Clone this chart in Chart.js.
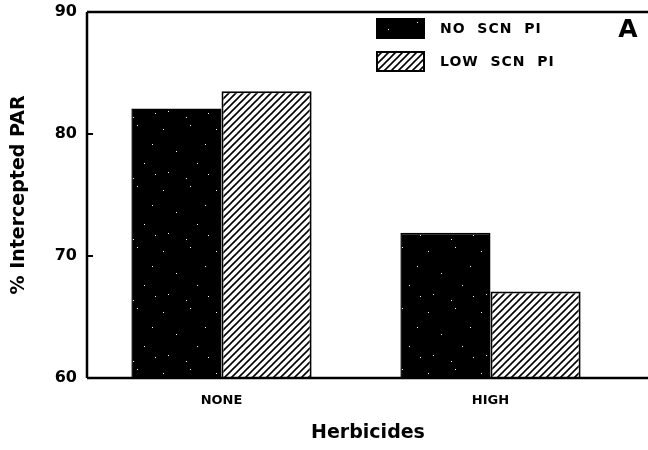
<!DOCTYPE html>
<html>
<head>
<meta charset="utf-8">
<script src="https://cdn.jsdelivr.net/npm/chart.js@4.4.0/dist/chart.umd.min.js"></script>
<style>
  body { margin: 0; overflow: hidden; background: #fff; }
  #wrap { width: 648px; height: 450px; }
</style>
</head>
<body>
<div id="wrap"><canvas id="chart"></canvas></div>
<script>
// data
const categories = ["NONE", "HIGH"];
const noScnPi = [82.1, 71.9];
const lowScnPi = [83.5, 67.1];
const seriesLabels = ["NO SCN PI", "LOW SCN PI"];
const yTicks = [60, 70, 80, 90];

const FONT = "'DejaVu Sans', 'Liberation Sans', sans-serif";

// black fill with a few white specks
function speckle() {
    const c = document.createElement("canvas");
    c.width = 53; c.height = 61;
    const g = c.getContext("2d");
    g.fillStyle = "#000";
    g.fillRect(0, 0, 53, 61);
    g.fillStyle = "#fff";
    const pts = [[4,7],[31,3],[46,22],[17,29],[38,41],[9,50],[27,56],[49,52]];
    pts.forEach(p => g.fillRect(p[0], p[1], 1, 1));
    return document.getElementById("chart").getContext("2d").createPattern(c, "repeat");
}

// diagonal hatch ////
function hatch() {
    const c = document.createElement("canvas");
    c.width = 7; c.height = 7;
    const g = c.getContext("2d");
    g.fillStyle = "#fff";
    g.fillRect(0, 0, 7, 7);
    g.strokeStyle = "#000";
    g.lineWidth = 1.6;
    g.beginPath();
    g.moveTo(-1, 8); g.lineTo(8, -1);
    g.moveTo(-1, 1); g.lineTo(1, -1);
    g.moveTo(6, 8); g.lineTo(8, 6);
    g.stroke();
    return document.getElementById("chart").getContext("2d").createPattern(c, "repeat");
}

const fills = [speckle(), hatch()];

// frame, inside ticks, legend, x title and panel letter
const decor = {
    id: "decor",
    afterDraw(chart) {
        const ctx = chart.ctx;
        const a = chart.chartArea;
        const y = chart.scales.y;
        ctx.save();
        ctx.strokeStyle = "#000";
        ctx.lineWidth = 2.5;
        ctx.beginPath();
        ctx.moveTo(a.left, a.top); ctx.lineTo(chart.width, a.top);
        ctx.moveTo(a.left, a.top); ctx.lineTo(a.left, a.bottom);
        ctx.moveTo(a.left, a.bottom); ctx.lineTo(chart.width, a.bottom);
        ctx.stroke();
        ctx.lineWidth = 2;
        yTicks.forEach(v => {
            const py = y.getPixelForValue(v);
            ctx.beginPath();
            ctx.moveTo(a.left, py); ctx.lineTo(a.left + 6, py);
            ctx.stroke();
        });
        // legend
        chart.data.datasets.forEach((ds, i) => {
            const top = 19 + i * 33;
            ctx.fillStyle = ds.backgroundColor;
            ctx.fillRect(377, top, 47, 19);
            ctx.lineWidth = 2;
            ctx.strokeRect(377, top, 47, 19);
            ctx.fillStyle = "#000";
            ctx.font = "bold 14px " + FONT;
            ctx.letterSpacing = "1px";
            ctx.textBaseline = "middle";
            ctx.fillText(ds.label.split(" ").join("  "), 440, top + 10);
        });
        ctx.letterSpacing = "0px";
        ctx.font = "bold 25px " + FONT;
        ctx.textBaseline = "middle";
        ctx.textAlign = "center";
        ctx.fillText("A", 628, 30);
        ctx.font = "bold 19px " + FONT;
        ctx.fillText("Herbicides", 368, 433);
        ctx.restore();
    }
};

new Chart(document.getElementById("chart"), {
    type: "bar",
    data: {
        labels: categories,
        datasets: [
            { label: seriesLabels[0], data: noScnPi, backgroundColor: fills[0], borderColor: "#000", borderWidth: 1.5 },
            { label: seriesLabels[1], data: lowScnPi, backgroundColor: fills[1], borderColor: "#000", borderWidth: 2 }
        ]
    },
    options: {
        responsive: true,
        maintainAspectRatio: false,
        animation: false,
        layout: { padding: { top: 12, right: 23, left: 0, bottom: 0 } },
        datasets: { bar: { categoryPercentage: 0.67, barPercentage: 1.0 } },
        plugins: { legend: { display: false }, tooltip: { enabled: false } },
        scales: {
            x: {
                grid: { display: false, drawTicks: false },
                border: { display: false },
                ticks: { color: "#000", font: { family: FONT, size: 13, weight: "bold" }, padding: 15, maxRotation: 0 },
                afterFit(s) { s.height = 72; }
            },
            y: {
                min: 60, max: 90,
                grid: { display: false, drawTicks: false },
                border: { display: false },
                ticks: { stepSize: 10, color: "#000", font: { family: FONT, size: 16, weight: "bold" }, padding: 10 },
                title: { display: true, text: "% Intercepted PAR", color: "#000", font: { family: FONT, size: 19, weight: "bold" }, padding: { top: 8, bottom: 0 } },
                afterFit(s) { s.width = 87; s.paddingTop = 0; s.paddingBottom = 0; }
            }
        }
    },
    plugins: [decor]
});
</script>
</body>
</html>
